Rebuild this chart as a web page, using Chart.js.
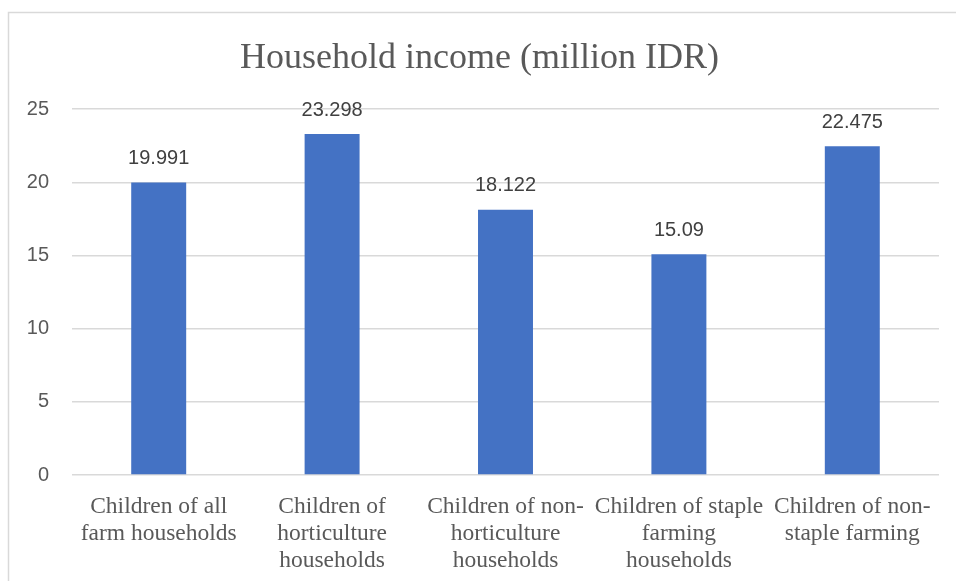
<!DOCTYPE html>
<html>
<head>
<meta charset="utf-8">
<script src="https://cdn.jsdelivr.net/npm/chart.js@4"></script>
<style>
  html, body { margin: 0; padding: 0; background: #ffffff; }
  #wrap { width: 956px; height: 581px; position: relative; }
</style>
</head>
<body>
<div id="wrap"><canvas id="c" width="956" height="581"></canvas></div>
<script>
const categories = [
  ["Children of all", "farm households"],
  ["Children of", "horticulture", "households"],
  ["Children of non-", "horticulture", "households"],
  ["Children of staple", "farming", "households"],
  ["Children of non-", "staple farming"]
];
const incomeValues = [19.991, 23.298, 18.122, 15.09, 22.475];
const valueLabels = ["19.991", "23.298", "18.122", "15.09", "22.475"];
const yTicks = [0, 5, 10, 15, 20, 25];
const chartTitle = "Household income (million IDR)";

const framePlugin = {
  id: 'frame',
  beforeDraw(chart) {
    const ctx = chart.ctx;
    ctx.save();
    ctx.fillStyle = '#ffffff';
    ctx.fillRect(0, 0, chart.width, chart.height);
    ctx.strokeStyle = '#d9d9d9';
    ctx.lineWidth = 1.5;
    ctx.strokeRect(8.5, 12.5, 1200, 1200);
    ctx.restore();
  }
};

const valueLabelPlugin = {
  id: 'valueLabels',
  afterDatasetsDraw(chart) {
    const ctx = chart.ctx;
    const meta = chart.getDatasetMeta(0);
    ctx.save();
    ctx.font = '20px "Liberation Sans", Arial, sans-serif';
    ctx.fillStyle = '#404040';
    ctx.textAlign = 'center';
    ctx.textBaseline = 'middle';
    meta.data.forEach((bar, i) => {
      ctx.fillText(valueLabels[i], bar.x, bar.y - 24);
    });
    ctx.restore();
  }
};

new Chart(document.getElementById('c'), {
  type: 'bar',
  data: {
    labels: categories,
    datasets: [{
      data: incomeValues,
      backgroundColor: '#4472C4',
      borderWidth: 0,
      barPercentage: 0.317,
      categoryPercentage: 1
    }]
  },
  options: {
    responsive: false,
    animation: false,
    devicePixelRatio: 1,
    layout: { padding: { left: 20, right: 17, top: 0, bottom: 0 } },
    plugins: {
      legend: { display: false },
      tooltip: { enabled: false },
      title: {
        display: true,
        text: chartTitle,
        color: '#595959',
        font: { family: '"Liberation Serif", "Times New Roman", serif', size: 36, weight: 'normal', lineHeight: 1.2 },
        padding: { top: 37, bottom: 29 }
      }
    },
    scales: {
      x: {
        grid: { display: false },
        border: { display: false },
        ticks: {
          color: '#595959',
          font: { family: '"Liberation Serif", "Times New Roman", serif', size: 23.5, lineHeight: 1.15 },
          maxRotation: 0,
          minRotation: 0,
          autoSkip: false,
          padding: 10
        },
        afterFit(scale) { scale.height = 106; }
      },
      y: {
        min: 0,
        max: 25,
        afterBuildTicks(scale) { scale.ticks = yTicks.map(v => ({ value: v })); },
        grid: { color: '#d9d9d9', lineWidth: 1.5, drawTicks: false },
        border: { display: false },
        ticks: {
          color: '#595959',
          font: { family: '"Liberation Sans", Arial, sans-serif', size: 20 },
          padding: 23
        },
        afterFit(scale) { scale.width = 52; }
      }
    }
  },
  plugins: [framePlugin, valueLabelPlugin]
});
</script>
</body>
</html>
